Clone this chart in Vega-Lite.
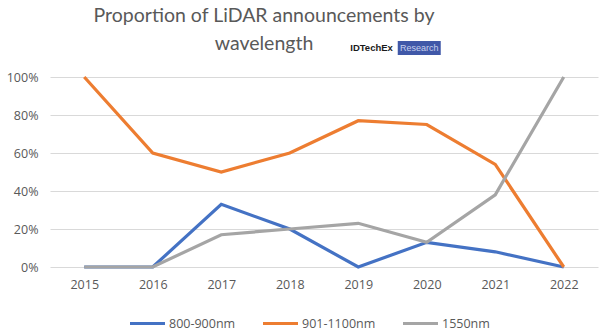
{
  "$schema": "https://vega.github.io/schema/vega-lite/v6.json",
  "autosize": {"type": "none"},
  "width": 548,
  "height": 190,
  "padding": {"left": 50, "top": 77, "right": 2, "bottom": 68},
  "background": "white",
  "title": {
    "text": ["Proportion of LiDAR announcements by", "wavelength"],
    "font": "Lato",
    "fontSize": 19.5,
    "fontWeight": "normal",
    "color": "#595959",
    "lineHeight": 28,
    "anchor": "middle",
    "dx": -60,
    "offset": -14
  },
  "config": {
    "view": {"stroke": null},
    "font": "Open Sans"
  },
  "datasets": {
    "logo": [{"brand": "IDTechEx", "tag": "Research", "year": "2019", "value": 1}]
  },
  "encoding": {
    "x": {
      "field": "year",
      "type": "ordinal",
      "scale": {"type": "point", "padding": 0.5},
      "axis": {
        "title": null,
        "labelAngle": 0,
        "ticks": false,
        "domain": false,
        "labelFont": "Open Sans",
        "labelFontSize": 12.5,
        "labelColor": "#595959",
        "labelPadding": 11
      }
    },
    "y": {
      "field": "value",
      "type": "quantitative",
      "scale": {"domain": [0, 1]},
      "axis": {
        "title": null,
        "format": ".0%",
        "values": [0, 0.2, 0.4, 0.6, 0.8, 1],
        "labelOverlap": false,
        "ticks": false,
        "domain": false,
        "gridColor": "#D9D9D9",
        "gridWidth": 1.2,
        "labelFont": "Open Sans",
        "labelFontSize": 12.5,
        "labelColor": "#595959",
        "labelPadding": 12
      }
    }
  },
  "layer": [
    {
      "data": {
        "values": [
          {"year": "2015", "series": "800-900nm", "value": 0},
          {"year": "2016", "series": "800-900nm", "value": 0},
          {"year": "2017", "series": "800-900nm", "value": 0.33},
          {"year": "2018", "series": "800-900nm", "value": 0.2},
          {"year": "2019", "series": "800-900nm", "value": 0},
          {"year": "2020", "series": "800-900nm", "value": 0.13},
          {"year": "2021", "series": "800-900nm", "value": 0.08},
          {"year": "2022", "series": "800-900nm", "value": 0},
          {"year": "2015", "series": "901-1100nm", "value": 1},
          {"year": "2016", "series": "901-1100nm", "value": 0.6},
          {"year": "2017", "series": "901-1100nm", "value": 0.5},
          {"year": "2018", "series": "901-1100nm", "value": 0.6},
          {"year": "2019", "series": "901-1100nm", "value": 0.77},
          {"year": "2020", "series": "901-1100nm", "value": 0.75},
          {"year": "2021", "series": "901-1100nm", "value": 0.54},
          {"year": "2022", "series": "901-1100nm", "value": 0},
          {"year": "2015", "series": "1550nm", "value": 0},
          {"year": "2016", "series": "1550nm", "value": 0},
          {"year": "2017", "series": "1550nm", "value": 0.17},
          {"year": "2018", "series": "1550nm", "value": 0.2},
          {"year": "2019", "series": "1550nm", "value": 0.23},
          {"year": "2020", "series": "1550nm", "value": 0.13},
          {"year": "2021", "series": "1550nm", "value": 0.38},
          {"year": "2022", "series": "1550nm", "value": 1}
        ]
      },
      "mark": {"type": "line", "strokeWidth": 3.2, "strokeJoin": "miter"},
      "encoding": {
        "color": {
          "field": "series",
          "type": "nominal",
          "scale": {
            "domain": ["800-900nm", "901-1100nm", "1550nm"],
            "range": ["#4472C4", "#ED7D31", "#A5A5A5"]
          },
          "legend": {
            "title": null,
            "orient": "none",
            "legendX": 78,
            "legendY": 227,
            "direction": "horizontal",
            "symbolType": "stroke",
            "symbolSize": 1225,
            "symbolStrokeWidth": 3.2,
            "labelFont": "Open Sans",
            "labelFontSize": 12.5,
            "labelColor": "#595959",
            "labelOffset": 2,
            "columnPadding": 20
          }
        }
      }
    },
    {
      "data": {"name": "logo"},
      "mark": {"type": "text", "align": "left", "baseline": "middle", "dx": -8, "dy": -29, "font": "Liberation Sans", "fontSize": 9.5, "fontWeight": "bold", "color": "#1a1a1a"},
      "encoding": {
        "text": {"field": "brand"}
      }
    },
    {
      "data": {"name": "logo"},
      "mark": {"type": "point", "shape": "M-1,-0.33H1V0.33H-1Z", "filled": true, "opacity": 1, "color": "#4058A8", "size": 1849, "xOffset": 61, "yOffset": -29},
      "encoding": {}
    },
    {
      "data": {"name": "logo"},
      "mark": {"type": "text", "align": "center", "baseline": "middle", "dx": 61, "dy": -29, "font": "Liberation Sans", "fontSize": 9, "color": "#c8d0ee"},
      "encoding": {
        "text": {"field": "tag"}
      }
    }
  ]
}
